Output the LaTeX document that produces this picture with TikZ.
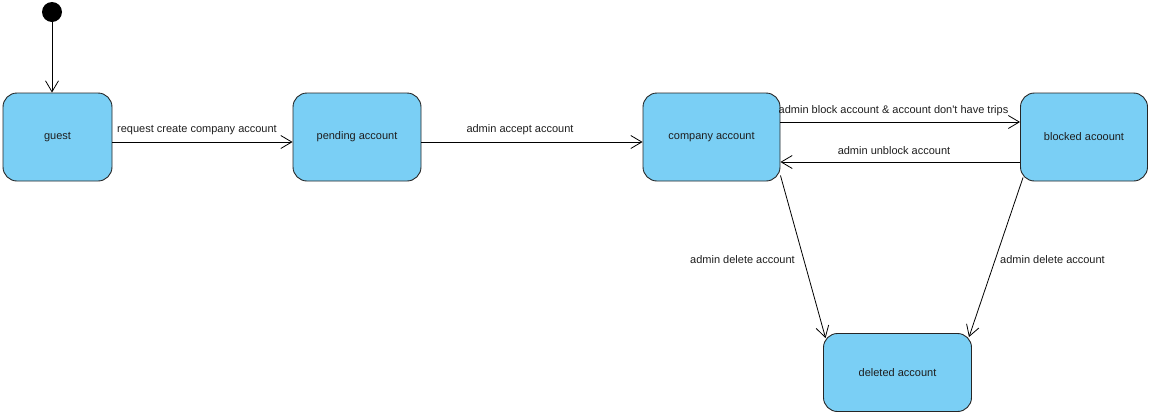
\documentclass[tikz,border=0pt]{standalone}
\usepackage{fontspec}
\setmainfont{Liberation Sans}
\usetikzlibrary{arrows.meta}
\definecolor{stfill}{RGB}{122,207,245}
\definecolor{txt}{RGB}{30,30,30}
\tikzset{
  state/.style={draw=black!85, line width=0.9pt, fill=stfill, rounded corners=14pt,
    inner sep=0pt, text=txt, font=\fontsize{11}{13}\selectfont},
  trans/.style={draw=black, line width=0.8pt, -{Straight Barb[length=11pt,width=13pt,line width=0.8pt]}},
  lbl/.style={inner sep=0pt, text=txt, font=\fontsize{11}{13}\selectfont}
}
\begin{document}
\begin{tikzpicture}[x=1pt,y=-1pt]
\useasboundingbox (0,0) rectangle (1156,416);
\node[circle, fill=black, minimum size=20pt, inner sep=0pt] (start) at (52,12) {};
\node[state, minimum width=109pt, minimum height=88pt] (guest) at (57.5,137) {guest};
\node[state, minimum width=128pt, minimum height=88pt] (pending) at (357,137) {pending account};
\node[state, minimum width=137pt, minimum height=88pt] (company) at (711.5,137) {company account};
\node[state, minimum width=127pt, minimum height=88pt] (blocked) at (1084,137) {blocked acoount};
\node[state, minimum width=148pt, minimum height=78pt] (deleted) at (897.5,372.5) {deleted account};

\draw[trans] (start.south) -- (guest.north -| start.south);
\draw[trans] ([yshift=-5pt]guest.east) -- ([yshift=-5pt]pending.west);
\draw[trans] ([yshift=-5pt]pending.east) -- ([yshift=-5pt]company.west);
\draw[trans] ([yshift=15pt]company.east) -- ([yshift=15pt]blocked.west);
\draw[trans] ([yshift=-25pt]blocked.west) -- ([yshift=-25pt]company.east);
\draw[trans] ([yshift=6pt]company.south east) -- ([xshift=2.5pt,yshift=-5pt]deleted.north west);
\draw[trans] ([xshift=3pt,yshift=4pt]blocked.south west) -- ([xshift=-3pt,yshift=-4pt]deleted.north east);

\node[lbl] (l1) at (197,130) {request create company account};
\node[lbl] (l2) at (520,130) {admin accept account};
\node[lbl] (l3) at (893.5,110.5) {admin block account \& account don\textquotesingle t have trips};
\node[lbl] (l4) at (894,150.5) {admin unblock account};
\node[lbl] (l5) at (742.5,260) {admin delete account};
\node[lbl] (l6) at (1052.5,260) {admin delete account};
\end{tikzpicture}
\end{document}
